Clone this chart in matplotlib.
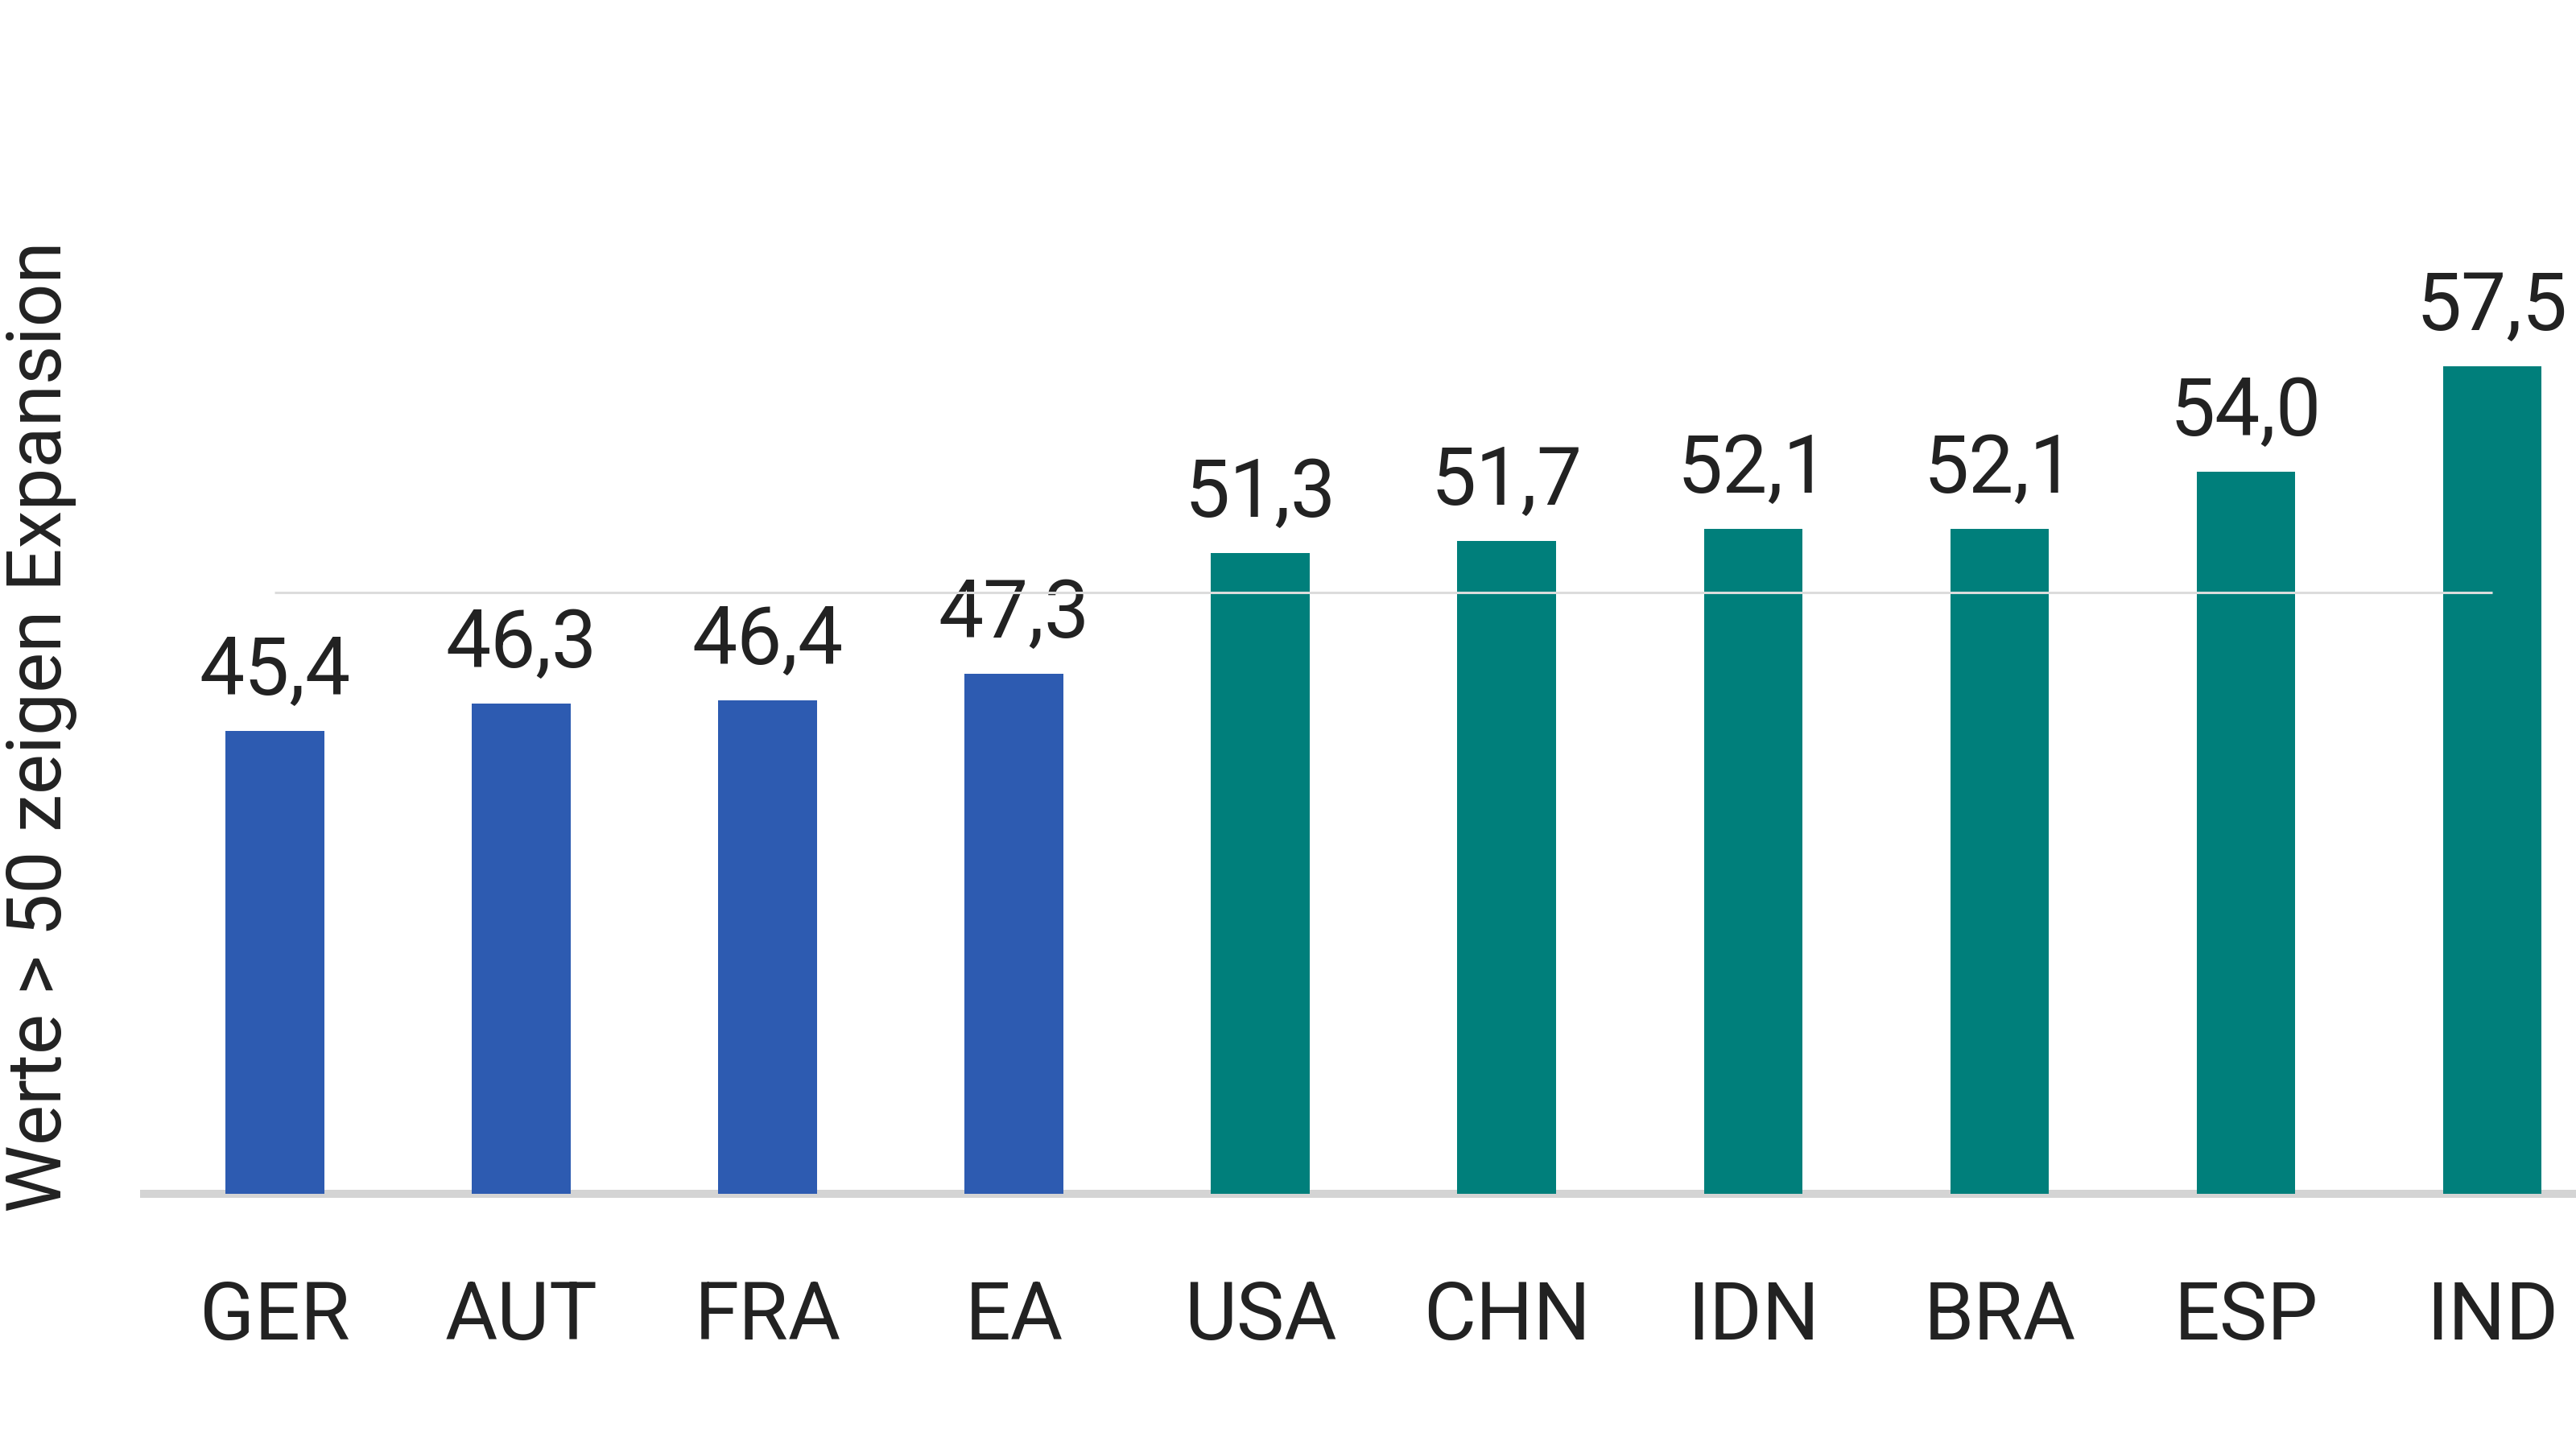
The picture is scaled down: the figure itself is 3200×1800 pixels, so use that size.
import matplotlib
matplotlib.use("Agg")
import matplotlib.pyplot as plt

# data
countries = ["GER", "AUT", "FRA", "EA", "USA", "CHN", "IDN", "BRA", "ESP", "IND"]
values = [45.4, 46.3, 46.4, 47.3, 51.3, 51.7, 52.1, 52.1, 54.0, 57.5]
groups = ["eu", "eu", "eu", "eu", "world", "world", "world", "world", "world", "world"]
threshold = 50
ylabel = "Werte > 50 zeigen Expansion"

colors = {"eu": "#2d5bb1", "world": "#007f7b"}
text_color = "#222222"

plt.rcParams["font.family"] = ["Roboto", "DejaVu Sans"]

fig = plt.figure(figsize=(16, 9), dpi=200)
ax = fig.add_axes([0.056, 0.176, 0.944, 0.735])

x = list(range(len(countries)))
bars = ax.bar(x, [v - 30 for v in values], bottom=30, width=0.4,
              color=[colors[g] for g in groups], zorder=3)

for xi, v in zip(x, values):
    ax.annotate(f"{v:.1f}".replace(".", ","), (xi, v), xytext=(0, 9),
                textcoords="offset points", ha="center", va="bottom",
                fontsize=36, color=text_color)

# threshold line at 50
ax.hlines(threshold, 0, len(countries) - 1, color="#dcdcdc", linewidth=1.1, zorder=4)

ax.set_xlim(-0.53, 9.34)
ax.set_ylim(30, 65.4)
ax.set_xticks(x)
ax.set_xticklabels(countries, fontsize=36, color=text_color)
ax.set_yticks([])
ax.tick_params(axis="x", length=0, pad=38)

for s in ["top", "right", "left"]:
    ax.spines[s].set_visible(False)
ax.spines["bottom"].set_color("#d4d4d4")
ax.spines["bottom"].set_linewidth(3.6)
ax.spines["bottom"].set_zorder(2)

fig.text(0.016, 1 - 903 / 1800, ylabel, rotation=90, ha="center", va="center",
         fontsize=34, color=text_color)

fig.savefig("out.png", dpi=200, facecolor="white")
